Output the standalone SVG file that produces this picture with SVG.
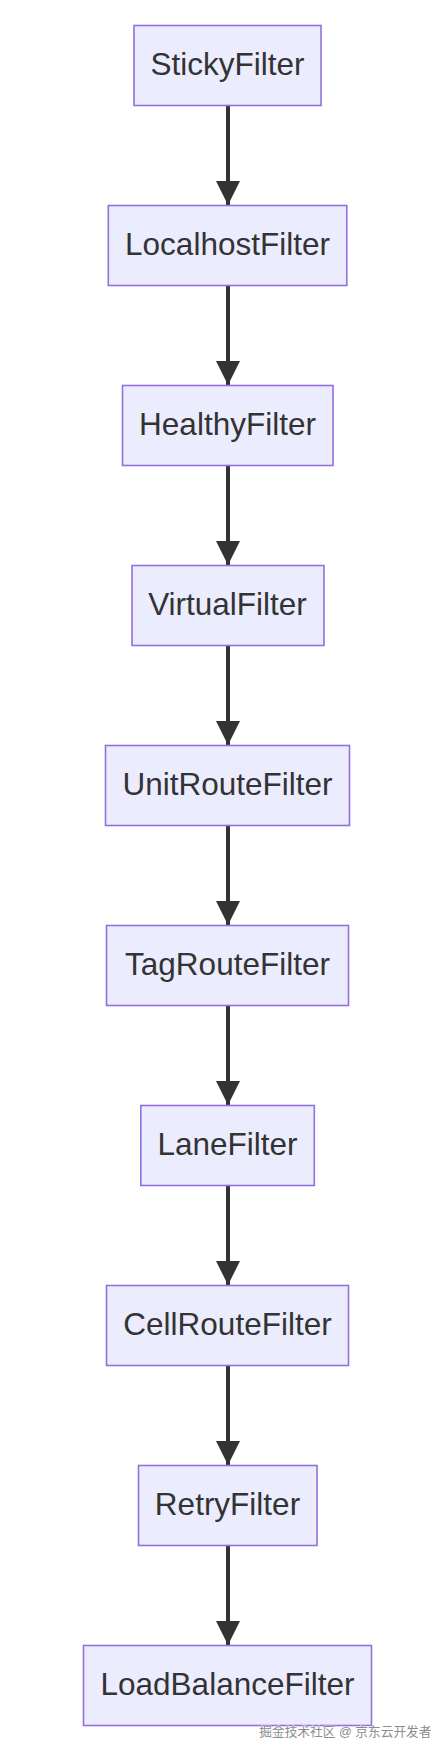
<svg xmlns="http://www.w3.org/2000/svg" width="446" height="1752" viewBox="0 0 446 1752">
<style>
.node rect{fill:#ECECFF;stroke:#9370DB;stroke-width:1.6}
.node text{font-family:"Liberation Sans",Arial,sans-serif;font-size:31.5px;fill:#333;text-anchor:middle}
.edge{stroke:#333;stroke-width:4;fill:none}
.wm{font-family:"Liberation Sans","Noto Sans CJK SC",sans-serif;font-size:12.7px;fill:#8c8c8c;stroke:#fff;stroke-width:0.6;paint-order:stroke}
</style>
<defs>
<marker id="arrow" markerUnits="userSpaceOnUse" markerWidth="24" markerHeight="24" refX="24" refY="12" viewBox="0 0 24 24" orient="auto">
<path d="M0,0 L24,12 L0,24 Z" fill="#333"/>
</marker>
</defs>
<rect width="446" height="1752" fill="#fff"/>
<g id="edges">
<line class="edge" x1="228" y1="106" x2="228" y2="205" marker-end="url(#arrow)"/>
<line class="edge" x1="228" y1="286" x2="228" y2="385" marker-end="url(#arrow)"/>
<line class="edge" x1="228" y1="466" x2="228" y2="565" marker-end="url(#arrow)"/>
<line class="edge" x1="228" y1="646" x2="228" y2="745" marker-end="url(#arrow)"/>
<line class="edge" x1="228" y1="826" x2="228" y2="925" marker-end="url(#arrow)"/>
<line class="edge" x1="228" y1="1006" x2="228" y2="1105" marker-end="url(#arrow)"/>
<line class="edge" x1="228" y1="1186" x2="228" y2="1285" marker-end="url(#arrow)"/>
<line class="edge" x1="228" y1="1366" x2="228" y2="1465" marker-end="url(#arrow)"/>
<line class="edge" x1="228" y1="1546" x2="228" y2="1645" marker-end="url(#arrow)"/>
</g>
<g id="StickyFilter" class="node"><rect x="134" y="25.5" width="187" height="80"/><text x="227.5" y="74.5">StickyFilter</text></g>
<g id="LocalhostFilter" class="node"><rect x="108.3" y="205.5" width="238.5" height="80"/><text x="227.5" y="254.5">LocalhostFilter</text></g>
<g id="HealthyFilter" class="node"><rect x="122.5" y="385.5" width="210.5" height="80"/><text x="227.5" y="434.5">HealthyFilter</text></g>
<g id="VirtualFilter" class="node"><rect x="132" y="565.5" width="192" height="80"/><text x="227.5" y="614.5">VirtualFilter</text></g>
<g id="UnitRouteFilter" class="node"><rect x="105.5" y="745.5" width="244" height="80"/><text x="227.5" y="794.5">UnitRouteFilter</text></g>
<g id="TagRouteFilter" class="node"><rect x="106.5" y="925.5" width="242" height="80"/><text x="227.5" y="974.5">TagRouteFilter</text></g>
<g id="LaneFilter" class="node"><rect x="140.8" y="1105.5" width="173.5" height="80"/><text x="227.5" y="1154.5">LaneFilter</text></g>
<g id="CellRouteFilter" class="node"><rect x="106.5" y="1285.5" width="242" height="80"/><text x="227.5" y="1334.5">CellRouteFilter</text></g>
<g id="RetryFilter" class="node"><rect x="138.5" y="1465.5" width="178.5" height="80"/><text x="227.5" y="1514.5">RetryFilter</text></g>
<g id="LoadBalanceFilter" class="node"><rect x="83.5" y="1645.5" width="288" height="80"/><text x="227.5" y="1694.5">LoadBalanceFilter</text></g>
<text class="wm" x="431.5" y="1736" text-anchor="end">掘金技术社区 @ 京东云开发者</text>
</svg>
